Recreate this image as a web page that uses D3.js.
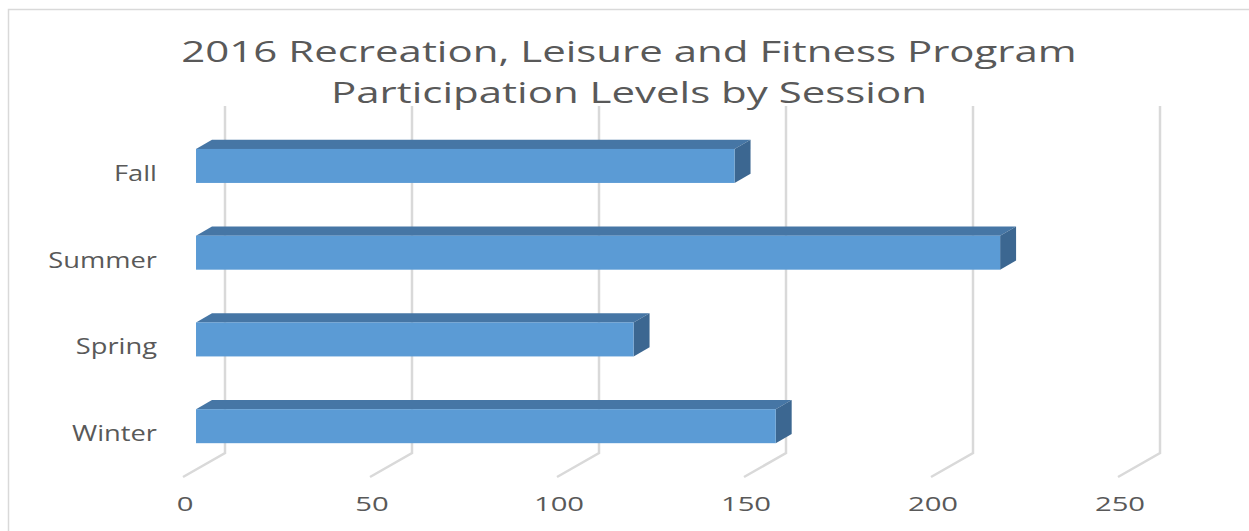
<!DOCTYPE html>
<html>
<head>
<meta charset="utf-8">
<script src="https://cdn.jsdelivr.net/npm/d3@7"></script>
<style>
  html, body { margin: 0; padding: 0; background: #ffffff; }
  svg { display: block; }
  text { font-family: "Open Sans", "DejaVu Sans", sans-serif; fill: #595959; }
</style>
</head>
<body>
<svg id="chart" width="1249" height="531"></svg>
<script>
// Participation by session (top to bottom as listed)
const sessions = ["Fall", "Summer", "Spring", "Winter"];
const participants = [144, 215, 117, 155];
const tickValues = [0, 50, 100, 150, 200, 250];
const titleLines = ["2016 Recreation, Leisure and Fitness Program",
                    "Participation Levels by Session"];

const svg = d3.select("#chart");
const W = 1249, H = 531;

// Front plane of the 3-D box, plus the offset to its back wall
const front = { left: 183, right: 1118, top: 130, bottom: 477 };
const depth = { dx: 42, dy: -24 };
const barNear = 0.31, barFar = 0.69;   // bar slab sits mid-depth

const x = d3.scaleLinear().domain([0, 250]).range([front.left, front.right]);
const y = d3.scaleBand().domain(sessions)
  .range([front.top, front.bottom])
  .paddingInner(0.608).paddingOuter(0.304);

const colors = { front: "#5B9BD5", top: "#4676A5", side: "#3C6791", grid: "#D9D9D9" };

// chart frame
svg.append("rect")
  .attr("x", 8.5).attr("y", 9.5).attr("width", W).attr("height", H)
  .attr("fill", "none").attr("stroke", "#D9D9D9").attr("stroke-width", 1.5);

// stretched text helper
function stretchedText(g, str, px, py, sx, anchor, size) {
  return g.append("text")
    .attr("transform", `translate(${px},${py}) scale(${sx},1)`)
    .attr("text-anchor", anchor)
    .attr("font-size", size)
    .text(str);
}

// title
const titleG = svg.append("g");
titleLines.forEach((t, i) => {
  stretchedText(titleG, t, 629, 62 + i * 41, 1.4, "middle", 30);
});

// gridlines: vertical on the back wall, then diagonal on the floor to the front edge
const grid = svg.append("g").attr("fill", "none")
  .attr("stroke", colors.grid).attr("stroke-width", 2.5);
grid.selectAll("path").data(tickValues).join("path")
  .attr("d", t => {
    const bx = x(t) + depth.dx;
    return `M${bx},${front.top + depth.dy}L${bx},${front.bottom + depth.dy}L${x(t)},${front.bottom}`;
  });

// value axis labels
const axisG = svg.append("g");
tickValues.forEach(t => {
  stretchedText(axisG, String(t), x(t) + 2, 511, 1.5, "middle", 19.5);
});

// category labels
const catG = svg.append("g");
sessions.forEach(s => {
  stretchedText(catG, s, 157, y(s) + y.bandwidth() / 2 + 7.5, 1.3, "end", 21);
});

// 3-D bars
const nx = depth.dx * barNear, ny = depth.dy * barNear;
const fx = depth.dx * barFar, fy = depth.dy * barFar;
const data = sessions.map((s, i) => ({ s, v: participants[i] }));

const bars = svg.append("g").selectAll("g").data(data).join("g");
bars.each(function(d) {
  const g = d3.select(this);
  const x0 = x(0) + nx, x1 = x(d.v) + nx;
  const y0 = y(d.s) + ny, y1 = y0 + y.bandwidth();
  const ddx = fx - nx, ddy = fy - ny;
  g.append("path").attr("fill", colors.top)
    .attr("d", `M${x0},${y0}L${x1},${y0}L${x1 + ddx},${y0 + ddy}L${x0 + ddx},${y0 + ddy}Z`);
  g.append("path").attr("fill", colors.side)
    .attr("d", `M${x1},${y0}L${x1 + ddx},${y0 + ddy}L${x1 + ddx},${y1 + ddy}L${x1},${y1}Z`);
  g.append("rect").attr("fill", colors.front)
    .attr("x", x0).attr("y", y0).attr("width", x1 - x0).attr("height", y1 - y0);
});
</script>
</body>
</html>
